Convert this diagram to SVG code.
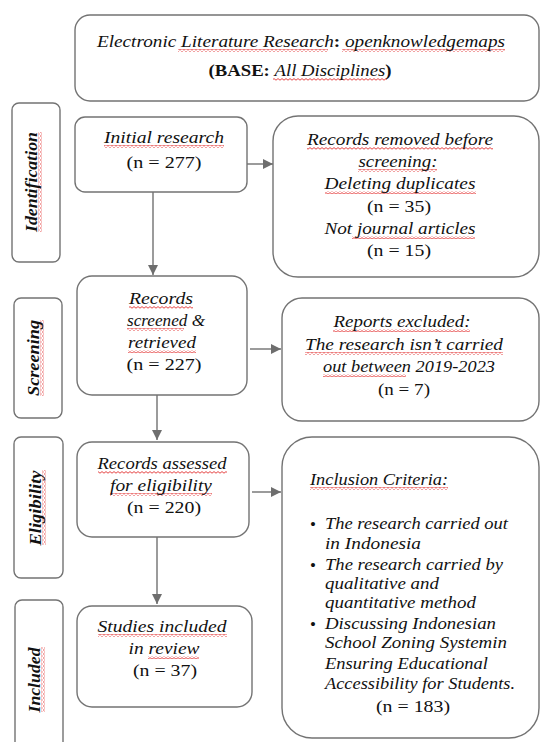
<svg xmlns="http://www.w3.org/2000/svg" width="541" height="742" viewBox="0 0 541 742">
<defs>
<style>
.box{fill:#fff;stroke:#737373;stroke-width:1.4}
.t{font-family:"Liberation Serif","Times New Roman",serif;font-size:17px;fill:#111}
.i{font-style:italic}
.b{font-weight:bold}
.c{text-anchor:middle}
.side{font-family:"Liberation Serif","Times New Roman",serif;font-size:16px;font-weight:bold;font-style:italic;fill:#111;text-anchor:middle}
.sq{fill:url(#wave)}
.con line{stroke:#7a7a7a;stroke-width:1.5;fill:none}
</style>
<pattern id="wave" x="0" y="0" width="4" height="3" patternUnits="userSpaceOnUse">
<path d="M0,2.2 L2,0.6 L4,2.2" fill="none" stroke="#e23030" stroke-width="0.9"/>
</pattern>
<marker id="ah" viewBox="0 0 10 10" refX="10" refY="5" markerWidth="10" markerHeight="10" markerUnits="userSpaceOnUse" orient="auto">
<path d="M0,0 L10,5 L0,10 Z" fill="#6e6e6e"/>
</marker>
</defs>
<rect width="541" height="742" fill="#fff"/>

<g id="connectors" class="con">
<line x1="247" y1="164" x2="273" y2="164" marker-end="url(#ah)"/>
<line x1="153" y1="192" x2="153" y2="275" marker-end="url(#ah)"/>
<line x1="250" y1="349" x2="281" y2="349" marker-end="url(#ah)"/>
<line x1="157" y1="395" x2="157" y2="440" marker-end="url(#ah)"/>
<line x1="252" y1="492" x2="281" y2="492" marker-end="url(#ah)"/>
<line x1="157" y1="537" x2="157" y2="604" marker-end="url(#ah)"/>
</g>

<g id="source">
<rect class="box" x="75" y="15" width="464" height="86" rx="15"/>
<rect class="sq" x="178" y="49" width="150" height="3"/>
<rect class="sq" x="342" y="49" width="163" height="3"/>
<rect class="sq" x="273" y="78" width="114" height="3"/>
<text class="t c" x="301" y="47" textLength="408" lengthAdjust="spacingAndGlyphs"><tspan class="i">Electronic Literature Research</tspan><tspan class="b">: </tspan><tspan class="i">openknowledgemaps</tspan></text>
<text class="t c" x="300" y="76" textLength="183" lengthAdjust="spacingAndGlyphs"><tspan class="b">(BASE: </tspan><tspan class="i">All Disciplines</tspan><tspan class="b">)</tspan></text>
</g>

<g id="label-identification">
<rect class="box" x="12" y="103" width="48" height="159" rx="7"/>
<g transform="translate(37,182) rotate(-90)">
<rect class="sq" x="-50" y="1.5" width="100" height="3"/>
<text class="side" x="0" y="0" textLength="100" lengthAdjust="spacingAndGlyphs">Identification</text>
</g>
</g>

<g id="initial-research">
<rect class="box" x="75" y="117" width="172" height="75" rx="10"/>
<rect class="sq" x="104" y="145" width="120" height="3"/>
<text class="t c i" x="164" y="143" textLength="120" lengthAdjust="spacingAndGlyphs">Initial research</text>
<text class="t c" x="164" y="168" textLength="75" lengthAdjust="spacingAndGlyphs">(n = 277)</text>
</g>

<g id="records-removed">
<rect class="box" x="273" y="116" width="266" height="161" rx="25"/>
<rect class="sq" x="307" y="147" width="186" height="3"/>
<rect class="sq" x="358" y="169" width="79" height="3"/>
<rect class="sq" x="325" y="191" width="151" height="3"/>
<rect class="sq" x="352" y="236" width="123" height="3"/>
<text class="t c i" x="400" y="145" textLength="186" lengthAdjust="spacingAndGlyphs">Records removed before</text>
<text class="t c i" x="398" y="167" textLength="79" lengthAdjust="spacingAndGlyphs">screening:</text>
<text class="t c i" x="400" y="189" textLength="151" lengthAdjust="spacingAndGlyphs">Deleting duplicates</text>
<text class="t c" x="399" y="212" textLength="64" lengthAdjust="spacingAndGlyphs">(n = 35)</text>
<text class="t c i" x="400" y="234" textLength="151" lengthAdjust="spacingAndGlyphs">Not journal articles</text>
<text class="t c" x="399" y="256" textLength="64" lengthAdjust="spacingAndGlyphs">(n = 15)</text>
</g>

<g id="label-screening">
<rect class="box" x="14" y="298" width="48" height="120" rx="7"/>
<g transform="translate(39,358) rotate(-90)">
<rect class="sq" x="-38" y="1.5" width="76" height="3"/>
<text class="side" x="0" y="0" textLength="76" lengthAdjust="spacingAndGlyphs">Screening</text>
</g>
</g>

<g id="records-screened">
<rect class="box" x="77" y="276" width="170" height="119" rx="15"/>
<rect class="sq" x="129" y="306" width="64" height="3"/>
<rect class="sq" x="127" y="328" width="57" height="3"/>
<rect class="sq" x="128" y="350" width="68" height="3"/>
<text class="t c i" x="161" y="304" textLength="64" lengthAdjust="spacingAndGlyphs">Records</text>
<text class="t c i" x="166" y="326" textLength="78" lengthAdjust="spacingAndGlyphs">screened &amp;</text>
<text class="t c i" x="162" y="348" textLength="68" lengthAdjust="spacingAndGlyphs">retrieved</text>
<text class="t c" x="164" y="370" textLength="75" lengthAdjust="spacingAndGlyphs">(n = 227)</text>
</g>

<g id="reports-excluded">
<rect class="box" x="282" y="298" width="257" height="123" rx="20"/>
<rect class="sq" x="333" y="329" width="137" height="3"/>
<rect class="sq" x="305" y="352" width="198" height="3"/>
<rect class="sq" x="323" y="374" width="83" height="3"/>
<text class="t c i" x="402" y="327" textLength="137" lengthAdjust="spacingAndGlyphs">Reports excluded:</text>
<text class="t c i" x="404" y="350" textLength="198" lengthAdjust="spacingAndGlyphs">The research isn’t carried</text>
<text class="t c i" x="409" y="372" textLength="172" lengthAdjust="spacingAndGlyphs">out between 2019-2023</text>
<text class="t c" x="404" y="395" textLength="52" lengthAdjust="spacingAndGlyphs">(n = 7)</text>
</g>

<g id="label-eligibility">
<rect class="box" x="14" y="437" width="49" height="141" rx="7"/>
<g transform="translate(41,508) rotate(-90)">
<rect class="sq" x="-37" y="1.5" width="75" height="3"/>
<text class="side" x="0" y="0" textLength="75" lengthAdjust="spacingAndGlyphs">Eligibility</text>
</g>
</g>

<g id="records-assessed">
<rect class="box" x="77" y="442" width="172" height="95" rx="15"/>
<rect class="sq" x="98" y="471" width="129" height="3"/>
<rect class="sq" x="110" y="493" width="102" height="3"/>
<text class="t c i" x="162" y="469" textLength="129" lengthAdjust="spacingAndGlyphs">Records assessed</text>
<text class="t c i" x="161" y="491" textLength="102" lengthAdjust="spacingAndGlyphs">for eligibility</text>
<text class="t c" x="164" y="513" textLength="74" lengthAdjust="spacingAndGlyphs">(n = 220)</text>
</g>

<g id="inclusion-criteria">
<rect class="box" x="282" y="437" width="257" height="301" rx="30"/>
<rect class="sq" x="310" y="487" width="138" height="3"/>
<text class="t i" x="310" y="485" textLength="138" lengthAdjust="spacingAndGlyphs">Inclusion Criteria:</text>
<text class="t" x="310" y="530">•</text>
<text class="t i" x="325" y="529" textLength="183" lengthAdjust="spacingAndGlyphs">The research carried out</text>
<text class="t i" x="325" y="549" textLength="96" lengthAdjust="spacingAndGlyphs">in Indonesia</text>
<text class="t" x="310" y="571">•</text>
<text class="t i" x="325" y="570" textLength="178" lengthAdjust="spacingAndGlyphs">The research carried by</text>
<text class="t i" x="325" y="589" textLength="114" lengthAdjust="spacingAndGlyphs">qualitative and</text>
<text class="t i" x="325" y="608" textLength="151" lengthAdjust="spacingAndGlyphs">quantitative method</text>
<text class="t" x="310" y="630">•</text>
<text class="t i" x="325" y="629" textLength="171" lengthAdjust="spacingAndGlyphs">Discussing Indonesian</text>
<text class="t i" x="325" y="648" textLength="182" lengthAdjust="spacingAndGlyphs">School Zoning Systemin</text>
<text class="t i" x="325" y="669" textLength="163" lengthAdjust="spacingAndGlyphs">Ensuring Educational</text>
<text class="t i" x="325" y="689" textLength="190" lengthAdjust="spacingAndGlyphs">Accessibility for Students.</text>
<text class="t c" x="413" y="712" textLength="74" lengthAdjust="spacingAndGlyphs">(n = 183)</text>
</g>

<g id="label-included">
<rect class="box" x="15" y="600" width="48" height="160" rx="7"/>
<g transform="translate(40,680) rotate(-90)">
<rect class="sq" x="-32" y="1.5" width="65" height="3"/>
<text class="side" x="0" y="0" textLength="65" lengthAdjust="spacingAndGlyphs">Included</text>
</g>
</g>

<g id="studies-included">
<rect class="box" x="77" y="606" width="175" height="101" rx="15"/>
<rect class="sq" x="98" y="634" width="129" height="3"/>
<rect class="sq" x="148" y="656" width="51" height="3"/>
<text class="t c i" x="162" y="632" textLength="129" lengthAdjust="spacingAndGlyphs">Studies included</text>
<text class="t c i" x="164" y="654" textLength="71" lengthAdjust="spacingAndGlyphs">in review</text>
<text class="t c" x="165" y="676" textLength="64" lengthAdjust="spacingAndGlyphs">(n = 37)</text>
</g>
</svg>
